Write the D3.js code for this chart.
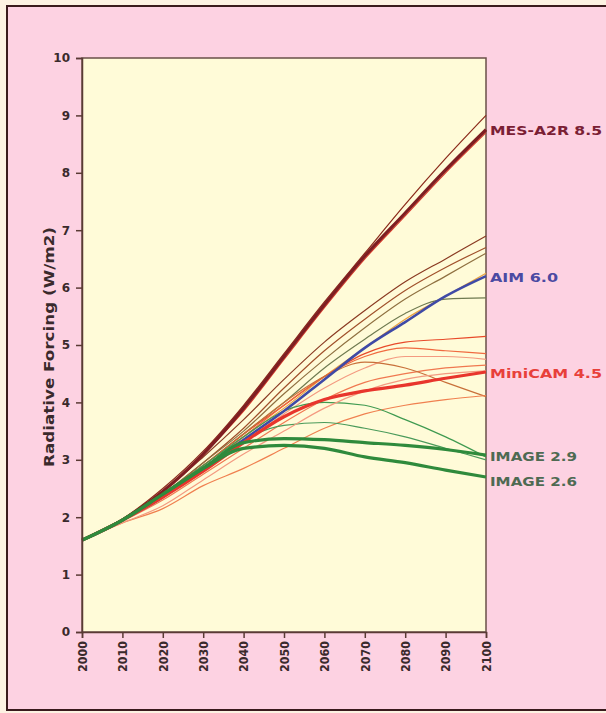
<!DOCTYPE html>
<html>
<head>
<meta charset="utf-8">
<script src="https://cdn.jsdelivr.net/npm/d3@7"></script>
<style>
  html, body { margin: 0; padding: 0; background: #fdf2e2; }
  svg { display: block; }
</style>
</head>
<body>
<svg id="chart" width="606" height="713"></svg>
<script>
// Radiative forcing pathways, 2000–2100 (W/m2), one value per decade
const years = [2000, 2010, 2020, 2030, 2040, 2050, 2060, 2070, 2080, 2090, 2100];
const yTicks = [0, 1, 2, 3, 4, 5, 6, 7, 8, 9, 10];

// thin background scenarios
const thin1  = [1.6, 1.97, 2.5, 3.15, 3.95, 4.85, 5.75, 6.6, 7.45, 8.25, 9.0];
const thin2  = [1.6, 1.95, 2.45, 3.1, 3.85, 4.75, 5.65, 6.5, 7.25, 8.0, 8.7];
const thin3  = [1.6, 1.97, 2.45, 3.05, 3.7, 4.4, 5.05, 5.6, 6.1, 6.5, 6.9];
const thin4  = [1.6, 1.95, 2.4, 2.95, 3.55, 4.25, 4.9, 5.45, 5.95, 6.35, 6.7];
const thin5  = [1.6, 1.95, 2.4, 2.95, 3.5, 4.15, 4.75, 5.3, 5.8, 6.2, 6.6];
const thin6  = [1.6, 1.95, 2.4, 2.9, 3.45, 4.0, 4.6, 5.1, 5.55, 5.8, 5.82];
const thin7  = [1.6, 1.95, 2.35, 2.85, 3.4, 3.9, 4.45, 4.95, 5.45, 5.85, 6.25];
const thin8  = [1.6, 1.95, 2.4, 2.9, 3.45, 3.95, 4.45, 4.85, 5.05, 5.1, 5.15];
const thin9  = [1.6, 1.95, 2.35, 2.85, 3.4, 3.95, 4.45, 4.8, 4.95, 4.9, 4.85];
const thin10 = [1.6, 1.95, 2.35, 2.8, 3.3, 3.8, 4.25, 4.6, 4.8, 4.8, 4.75];
const thin11 = [1.6, 1.93, 2.3, 2.75, 3.2, 3.65, 4.05, 4.35, 4.5, 4.6, 4.65];
const thin12 = [1.6, 1.95, 2.4, 2.9, 3.45, 4.0, 4.45, 4.7, 4.6, 4.35, 4.1];
const thin13 = [1.6, 1.9, 2.15, 2.55, 2.85, 3.2, 3.55, 3.8, 3.95, 4.05, 4.12];
const thin14 = [1.6, 1.95, 2.4, 2.9, 3.4, 3.85, 4.0, 3.95, 3.7, 3.4, 3.05];
const thin15 = [1.6, 1.95, 2.35, 2.85, 3.35, 3.6, 3.65, 3.55, 3.4, 3.2, 3.0];
const thin16 = [1.6, 1.9, 2.2, 2.65, 3.1, 3.5, 3.9, 4.2, 4.4, 4.5, 4.55];

const thinColors = ["#8b2a1a", "#d8392a", "#8a3a22", "#a0502a", "#8f7040", "#6f7a50",
                    "#e8a040", "#e84a2a", "#f06a40", "#f49a80", "#f07850", "#c8703a",
                    "#f08050", "#3f9a50", "#4a9a5a", "#f49a80"];

// highlighted representative pathways
const mesA2R   = [1.6, 1.95, 2.45, 3.1, 3.9, 4.8, 5.7, 6.55, 7.3, 8.05, 8.75];
const aim      = [1.6, 1.95, 2.35, 2.85, 3.35, 3.85, 4.4, 4.95, 5.4, 5.85, 6.2];
const miniCAM  = [1.6, 1.95, 2.35, 2.8, 3.3, 3.75, 4.05, 4.2, 4.3, 4.42, 4.53];
const image29  = [1.6, 1.95, 2.4, 2.85, 3.3, 3.37, 3.35, 3.3, 3.25, 3.18, 3.08];
const image26  = [1.6, 1.95, 2.4, 2.85, 3.2, 3.25, 3.2, 3.05, 2.95, 2.82, 2.7];

const mainNames  = ["MES-A2R 8.5", "AIM 6.0", "MiniCAM 4.5", "IMAGE 2.9", "IMAGE 2.6"];
const mainColors = ["#7e1e22", "#3f4aa6", "#e8352c", "#2f8a3c", "#2f8a3c"];
const labelColors = ["#7a2034", "#4b4aa2", "#e8403a", "#4e6a52", "#4e6a52"];

const fontFam = "DejaVu Sans, Liberation Sans, sans-serif";
const svg = d3.select("#chart");

// page frame
svg.append("rect").attr("x", 7).attr("y", 6).attr("width", 610).attr("height", 704)
  .attr("fill", "#fdd2e2").attr("stroke", "#3a1a1c").attr("stroke-width", 2);

const x = d3.scaleLinear().domain([2000, 2100]).range([82, 486]);
const y = d3.scaleLinear().domain([0, 10]).range([632, 58]);

svg.append("rect").attr("x", x(2000)).attr("y", y(10))
  .attr("width", x(2100) - x(2000)).attr("height", y(0) - y(10))
  .attr("fill", "#fffbd8").attr("stroke", "#6a5048").attr("stroke-width", 1.5);

const line = d3.line().x((d, i) => x(years[i])).y(d => y(d)).curve(d3.curveMonotoneX);

const thinSeries = [thin1, thin2, thin3, thin4, thin5, thin6, thin7, thin8, thin9, thin10,
                    thin11, thin12, thin13, thin14, thin15, thin16];
svg.append("g").selectAll("path").data(thinSeries).join("path")
  .attr("d", line).attr("fill", "none")
  .attr("stroke", (d, i) => thinColors[i]).attr("stroke-width", 1.2);

const mainSeries = [mesA2R, aim, miniCAM, image29, image26];
svg.append("g").selectAll("path").data(mainSeries).join("path")
  .attr("d", line).attr("fill", "none")
  .attr("stroke", (d, i) => mainColors[i])
  .attr("stroke-width", (d, i) => i === 1 ? 2.6 : 3.2)
  .attr("stroke-linejoin", "round");

// axes
const axisColor = "#5a3a34";
const yAxis = svg.append("g").attr("transform", `translate(${x(2000)},0)`)
  .call(d3.axisLeft(y).tickValues(yTicks).tickSize(6).tickPadding(6));
const xAxis = svg.append("g").attr("transform", `translate(0,${y(0)})`)
  .call(d3.axisBottom(x).tickValues(years).tickFormat(d3.format("d")).tickSize(6));
[yAxis, xAxis].forEach(g => {
  g.select(".domain").attr("stroke", axisColor).attr("stroke-width", 1.5);
  g.selectAll(".tick line").attr("stroke", axisColor).attr("stroke-width", 1.5);
  g.selectAll("text").attr("fill", "#3a2a2c").attr("font-family", fontFam)
    .attr("font-size", 12).attr("font-weight", "bold");
});
xAxis.selectAll(".tick text")
  .attr("transform", "translate(0,9) rotate(-90)")
  .attr("text-anchor", "end").attr("dy", "0.35em").attr("x", 0).attr("y", 0)
  .attr("textLength", 31).attr("lengthAdjust", "spacingAndGlyphs");

// axis title
svg.append("text")
  .attr("transform", `translate(49,${(y(0) + y(10)) / 2 + 2}) rotate(-90)`)
  .attr("text-anchor", "middle").attr("dy", "0.35em")
  .attr("font-family", fontFam)
  .attr("font-size", 14).attr("font-weight", "bold").attr("fill", "#3a2a2c")
  .attr("textLength", 240).attr("lengthAdjust", "spacingAndGlyphs")
  .text("Radiative Forcing (W/m2)");

// pathway labels at the right end
const labelY = [mesA2R[10], aim[10], miniCAM[10], image29[10], image26[10]];
const labelWidths = [112, 68, 112, 87, 87];
svg.append("g").selectAll("text").data(mainNames).join("text")
  .attr("x", 490)
  .attr("y", (d, i) => y(labelY[i]) + (i === 4 ? 4 : 1))
  .attr("dy", "0.35em")
  .attr("font-family", fontFam)
  .attr("font-size", 13).attr("font-weight", "bold")
  .attr("fill", (d, i) => labelColors[i])
  .attr("textLength", (d, i) => labelWidths[i])
  .attr("lengthAdjust", "spacingAndGlyphs")
  .text(d => d);
</script>
</body>
</html>
